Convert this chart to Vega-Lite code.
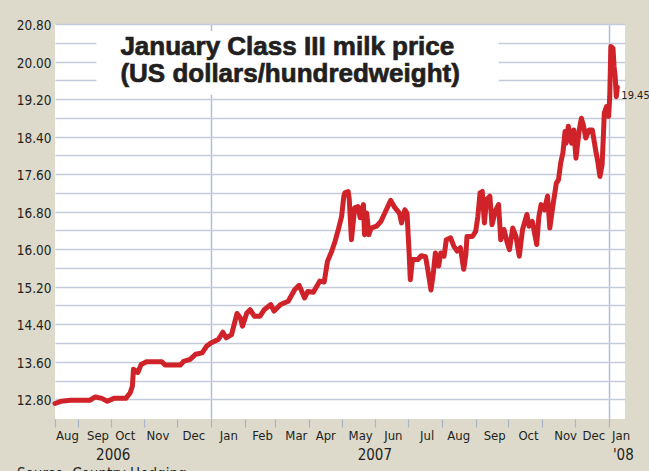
{
  "$schema": "https://vega.github.io/schema/vega-lite/v6.json",
  "width": 570,
  "height": 395,
  "autosize": {"type": "none"},
  "padding": {"left": 55, "top": 24, "right": 24, "bottom": 52},
  "background": "#dddacb",
  "config": {
    "view": {"fill": "white", "stroke": null},
    "axis": {"labelFont": "DejaVu Sans Condensed, Liberation Sans", "labelColor": "#231f20", "labelFlush": false, "labelOverlap": false, "labelBound": false}
  },
  "title": {"text": "Source: Country Hedging", "orient": "bottom", "anchor": "start", "frame": "group", "dx": -38, "offset": 4, "font": "DejaVu Sans Condensed, Liberation Sans", "fontSize": 15, "fontWeight": "normal", "color": "#231f20"},
  "datasets": {
    "prices": [
      {"date": "2006-08-11", "price": 12.71},
      {"date": "2006-08-17", "price": 12.76},
      {"date": "2006-08-25", "price": 12.78},
      {"date": "2006-09-12", "price": 12.78},
      {"date": "2006-09-17", "price": 12.85},
      {"date": "2006-09-23", "price": 12.82},
      {"date": "2006-09-28", "price": 12.76},
      {"date": "2006-10-04", "price": 12.82},
      {"date": "2006-10-15", "price": 12.82},
      {"date": "2006-10-19", "price": 12.94},
      {"date": "2006-10-21", "price": 13.08},
      {"date": "2006-10-22", "price": 13.44},
      {"date": "2006-10-26", "price": 13.37},
      {"date": "2006-10-29", "price": 13.54},
      {"date": "2006-11-03", "price": 13.60},
      {"date": "2006-11-17", "price": 13.60},
      {"date": "2006-11-20", "price": 13.53},
      {"date": "2006-12-04", "price": 13.53},
      {"date": "2006-12-07", "price": 13.61},
      {"date": "2006-12-13", "price": 13.65},
      {"date": "2006-12-18", "price": 13.76},
      {"date": "2006-12-24", "price": 13.79},
      {"date": "2006-12-28", "price": 13.93},
      {"date": "2007-01-01", "price": 14.00},
      {"date": "2007-01-03", "price": 14.02},
      {"date": "2007-01-08", "price": 14.08},
      {"date": "2007-01-12", "price": 14.23},
      {"date": "2007-01-15", "price": 14.11},
      {"date": "2007-01-20", "price": 14.18},
      {"date": "2007-01-25", "price": 14.63},
      {"date": "2007-01-28", "price": 14.54},
      {"date": "2007-01-30", "price": 14.36},
      {"date": "2007-02-03", "price": 14.64},
      {"date": "2007-02-06", "price": 14.71},
      {"date": "2007-02-10", "price": 14.57},
      {"date": "2007-02-15", "price": 14.57},
      {"date": "2007-02-19", "price": 14.71},
      {"date": "2007-02-25", "price": 14.82},
      {"date": "2007-02-28", "price": 14.68},
      {"date": "2007-03-06", "price": 14.82},
      {"date": "2007-03-13", "price": 14.89},
      {"date": "2007-03-19", "price": 15.14},
      {"date": "2007-03-23", "price": 15.23},
      {"date": "2007-03-28", "price": 14.96},
      {"date": "2007-03-31", "price": 15.10},
      {"date": "2007-04-05", "price": 15.08},
      {"date": "2007-04-11", "price": 15.32},
      {"date": "2007-04-15", "price": 15.30},
      {"date": "2007-04-18", "price": 15.74},
      {"date": "2007-04-22", "price": 15.96},
      {"date": "2007-04-25", "price": 16.17},
      {"date": "2007-04-28", "price": 16.42},
      {"date": "2007-05-01", "price": 16.70},
      {"date": "2007-05-03", "price": 17.13},
      {"date": "2007-05-04", "price": 17.20},
      {"date": "2007-05-07", "price": 17.23},
      {"date": "2007-05-08", "price": 17.06},
      {"date": "2007-05-10", "price": 16.20},
      {"date": "2007-05-13", "price": 16.88},
      {"date": "2007-05-16", "price": 16.91},
      {"date": "2007-05-18", "price": 16.67},
      {"date": "2007-05-21", "price": 16.95},
      {"date": "2007-05-22", "price": 16.31},
      {"date": "2007-05-24", "price": 16.77},
      {"date": "2007-05-26", "price": 16.31},
      {"date": "2007-05-28", "price": 16.45},
      {"date": "2007-06-02", "price": 16.49},
      {"date": "2007-06-06", "price": 16.59},
      {"date": "2007-06-11", "price": 16.84},
      {"date": "2007-06-15", "price": 17.04},
      {"date": "2007-06-19", "price": 16.88},
      {"date": "2007-06-23", "price": 16.77},
      {"date": "2007-06-25", "price": 16.56},
      {"date": "2007-06-28", "price": 16.84},
      {"date": "2007-06-30", "price": 16.77},
      {"date": "2007-07-02", "price": 15.89},
      {"date": "2007-07-03", "price": 15.35},
      {"date": "2007-07-05", "price": 15.78},
      {"date": "2007-07-10", "price": 15.78},
      {"date": "2007-07-13", "price": 15.86},
      {"date": "2007-07-17", "price": 15.84},
      {"date": "2007-07-19", "price": 15.57},
      {"date": "2007-07-22", "price": 15.13},
      {"date": "2007-07-24", "price": 15.46},
      {"date": "2007-07-26", "price": 15.92},
      {"date": "2007-07-29", "price": 15.64},
      {"date": "2007-07-31", "price": 15.92},
      {"date": "2007-08-03", "price": 15.85},
      {"date": "2007-08-05", "price": 16.20},
      {"date": "2007-08-09", "price": 16.24},
      {"date": "2007-08-12", "price": 16.06},
      {"date": "2007-08-15", "price": 15.96},
      {"date": "2007-08-18", "price": 16.03},
      {"date": "2007-08-21", "price": 15.57},
      {"date": "2007-08-23", "price": 15.89},
      {"date": "2007-08-24", "price": 16.27},
      {"date": "2007-08-29", "price": 16.27},
      {"date": "2007-09-01", "price": 16.38},
      {"date": "2007-09-03", "price": 16.70},
      {"date": "2007-09-05", "price": 17.20},
      {"date": "2007-09-07", "price": 17.23},
      {"date": "2007-09-09", "price": 16.56},
      {"date": "2007-09-11", "price": 17.06},
      {"date": "2007-09-14", "price": 17.13},
      {"date": "2007-09-16", "price": 16.52},
      {"date": "2007-09-19", "price": 16.81},
      {"date": "2007-09-22", "price": 16.95},
      {"date": "2007-09-24", "price": 16.20},
      {"date": "2007-09-27", "price": 16.42},
      {"date": "2007-09-30", "price": 16.13},
      {"date": "2007-10-02", "price": 15.99},
      {"date": "2007-10-05", "price": 16.45},
      {"date": "2007-10-08", "price": 16.27},
      {"date": "2007-10-11", "price": 15.85},
      {"date": "2007-10-14", "price": 16.42},
      {"date": "2007-10-18", "price": 16.74},
      {"date": "2007-10-20", "price": 16.49},
      {"date": "2007-10-23", "price": 16.59},
      {"date": "2007-10-27", "price": 16.10},
      {"date": "2007-10-29", "price": 16.70},
      {"date": "2007-10-31", "price": 16.95},
      {"date": "2007-11-03", "price": 16.84},
      {"date": "2007-11-06", "price": 17.13},
      {"date": "2007-11-08", "price": 16.45},
      {"date": "2007-11-11", "price": 16.95},
      {"date": "2007-11-14", "price": 17.41},
      {"date": "2007-11-16", "price": 17.48},
      {"date": "2007-11-18", "price": 17.84},
      {"date": "2007-11-20", "price": 18.05},
      {"date": "2007-11-22", "price": 18.51},
      {"date": "2007-11-23", "price": 18.26},
      {"date": "2007-11-25", "price": 18.62},
      {"date": "2007-11-28", "price": 18.26},
      {"date": "2007-11-30", "price": 18.54},
      {"date": "2007-12-02", "price": 17.94},
      {"date": "2007-12-05", "price": 18.54},
      {"date": "2007-12-07", "price": 18.79},
      {"date": "2007-12-09", "price": 18.62},
      {"date": "2007-12-11", "price": 18.37},
      {"date": "2007-12-14", "price": 18.54},
      {"date": "2007-12-17", "price": 18.54},
      {"date": "2007-12-20", "price": 18.12},
      {"date": "2007-12-22", "price": 17.87},
      {"date": "2007-12-24", "price": 17.55},
      {"date": "2007-12-26", "price": 17.80},
      {"date": "2007-12-27", "price": 18.33},
      {"date": "2007-12-28", "price": 18.90},
      {"date": "2007-12-30", "price": 19.04},
      {"date": "2008-01-01", "price": 18.83},
      {"date": "2008-01-02", "price": 19.25},
      {"date": "2008-01-03", "price": 20.32},
      {"date": "2008-01-05", "price": 20.28},
      {"date": "2008-01-06", "price": 19.89},
      {"date": "2008-01-07", "price": 19.68},
      {"date": "2008-01-08", "price": 19.25},
      {"date": "2008-01-09", "price": 19.45}
    ]
  },
  "resolve": {"axis": {"x": "independent", "y": "independent"}},
  "layer": [
    {
      "data": {"name": "prices"},
      "mark": {"type": "line", "color": "#cf2229", "strokeWidth": 5, "strokeJoin": "round", "strokeCap": "round"},
      "encoding": {
        "x": {
          "field": "date", "type": "temporal",
          "scale": {"type": "utc", "domain": [{"year": 2006, "month": 8, "date": 11, "utc": true}, {"year": 2008, "month": 1, "date": 16, "utc": true}]},
          "axis": {
            "orient": "bottom", "title": null, "grid": false, "domain": false, "ticks": false,
            "labelFontSize": 13, "labelPadding": 10,
            "labelExpr": "utcFormat(datum.value, '%b')",
            "values": [
              {"year": 2006, "month": 8, "date": 22, "utc": true},
              {"year": 2006, "month": 9, "date": 19, "utc": true},
              {"year": 2006, "month": 10, "date": 14, "utc": true},
              {"year": 2006, "month": 11, "date": 13, "utc": true},
              {"year": 2006, "month": 12, "date": 16, "utc": true},
              {"year": 2007, "month": 1, "date": 17, "utc": true},
              {"year": 2007, "month": 2, "date": 17, "utc": true},
              {"year": 2007, "month": 3, "date": 20, "utc": true},
              {"year": 2007, "month": 4, "date": 16, "utc": true},
              {"year": 2007, "month": 5, "date": 18, "utc": true},
              {"year": 2007, "month": 6, "date": 17, "utc": true},
              {"year": 2007, "month": 7, "date": 18, "utc": true},
              {"year": 2007, "month": 8, "date": 16, "utc": true},
              {"year": 2007, "month": 9, "date": 18, "utc": true},
              {"year": 2007, "month": 10, "date": 19, "utc": true},
              {"year": 2007, "month": 11, "date": 22, "utc": true},
              {"year": 2007, "month": 12, "date": 18, "utc": true},
              {"year": 2008, "month": 1, "date": 12, "utc": true}
            ]
          }
        },
        "y": {
          "field": "price", "type": "quantitative",
          "scale": {"domain": [12.38, 20.8], "nice": false, "zero": false},
          "axis": {
            "orient": "left", "title": null, "domain": false, "ticks": false, "grid": true,
            "gridColor": "#c5cbda", "gridWidth": 1.3,
            "labelFontSize": 13.5, "labelPadding": 4, "labelOffset": 1.5,
            "values": [12.8, 13.2, 13.6, 14.0, 14.4, 14.8, 15.2, 15.6, 16.0, 16.4, 16.8, 17.2, 17.6, 18.0, 18.4, 18.8, 19.2, 19.6, 20.0, 20.4, 20.8],
            "labelExpr": "round(datum.value * 10) % 8 == 0 ? format(datum.value, '.2f') : ''"
          }
        }
      }
    },
    {
      "data": {"values": [{}]},
      "mark": {"type": "rect", "fill": "white"},
      "encoding": {
        "x": {
          "datum": {"year": 2006, "month": 9, "date": 18, "utc": true}, "type": "temporal",
          "scale": {"type": "utc", "domain": [{"year": 2006, "month": 8, "date": 11, "utc": true}, {"year": 2008, "month": 1, "date": 16, "utc": true}]},
          "axis": {
            "orient": "bottom", "title": null, "labels": false, "domain": false,
            "ticks": true, "tickSize": 8, "tickColor": "#a9b4cb", "tickWidth": 1.2,
            "grid": true, "gridWidth": 1.5,
            "gridColor": {"condition": {"test": "utcmonth(datum.value) == 0 && utcdate(datum.value) == 1", "value": "#b3bed6"}, "value": "transparent"},
            "values": [
              {"year": 2006, "month": 8, "date": 11, "utc": true},
              {"year": 2006, "month": 9, "date": 1, "utc": true},
              {"year": 2006, "month": 10, "date": 1, "utc": true},
              {"year": 2006, "month": 11, "date": 1, "utc": true},
              {"year": 2006, "month": 12, "date": 1, "utc": true},
              {"year": 2007, "month": 1, "date": 1, "utc": true},
              {"year": 2007, "month": 2, "date": 1, "utc": true},
              {"year": 2007, "month": 3, "date": 1, "utc": true},
              {"year": 2007, "month": 4, "date": 1, "utc": true},
              {"year": 2007, "month": 5, "date": 1, "utc": true},
              {"year": 2007, "month": 6, "date": 1, "utc": true},
              {"year": 2007, "month": 7, "date": 1, "utc": true},
              {"year": 2007, "month": 8, "date": 1, "utc": true},
              {"year": 2007, "month": 9, "date": 1, "utc": true},
              {"year": 2007, "month": 10, "date": 1, "utc": true},
              {"year": 2007, "month": 11, "date": 1, "utc": true},
              {"year": 2007, "month": 12, "date": 1, "utc": true},
              {"year": 2008, "month": 1, "date": 1, "utc": true}
            ]
          }
        },
        "x2": {"datum": {"year": 2007, "month": 9, "date": 22, "utc": true}},
        "y": {"datum": 20.65, "type": "quantitative", "scale": {"domain": [12.38, 20.8], "nice": false, "zero": false}, "axis": null},
        "y2": {"datum": 19.29}
      }
    },
    {
      "data": {"values": [{}]},
      "mark": {"type": "text", "text": ["January Class III milk price", "(US dollars/hundredweight)"], "align": "left", "baseline": "alphabetic", "font": "Liberation Sans", "fontSize": 26, "fontWeight": "bold", "lineHeight": 27, "color": "#231f20", "stroke": "#231f20", "strokeWidth": 0.7},
      "encoding": {
        "x": {
          "datum": {"year": 2006, "month": 10, "date": 10, "utc": true}, "type": "temporal",
          "scale": {"type": "utc", "domain": [{"year": 2006, "month": 8, "date": 11, "utc": true}, {"year": 2008, "month": 1, "date": 16, "utc": true}]},
          "axis": {
            "orient": "bottom", "title": null, "grid": false, "domain": false, "ticks": false,
            "labelFontSize": 15, "labelPadding": 28.5,
            "labelExpr": "utcyear(datum.value) == 2008 ? \"'08\" : utcFormat(datum.value, '%Y')",
            "values": [
              {"year": 2006, "month": 10, "date": 3, "utc": true},
              {"year": 2007, "month": 5, "date": 31, "utc": true},
              {"year": 2008, "month": 1, "date": 14, "utc": true}
            ]
          }
        },
        "y": {"datum": 20.14, "type": "quantitative", "scale": {"domain": [12.38, 20.8], "nice": false, "zero": false}, "axis": null}
      }
    },
    {
      "data": {"name": "prices"},
      "transform": [{"filter": {"field": "date", "equal": {"year": 2008, "month": 1, "date": 9, "utc": true}}}],
      "mark": {"type": "text", "align": "left", "baseline": "middle", "dx": 4, "dy": 9, "font": "DejaVu Sans Condensed, Liberation Sans", "fontSize": 11, "color": "#231f20"},
      "encoding": {
        "x": {"field": "date", "type": "temporal", "scale": {"type": "utc", "domain": [{"year": 2006, "month": 8, "date": 11, "utc": true}, {"year": 2008, "month": 1, "date": 16, "utc": true}]}, "axis": null},
        "y": {"field": "price", "type": "quantitative", "scale": {"domain": [12.38, 20.8], "nice": false, "zero": false}, "axis": null},
        "text": {"field": "price", "type": "quantitative", "format": ".2f"}
      }
    }
  ]
}
